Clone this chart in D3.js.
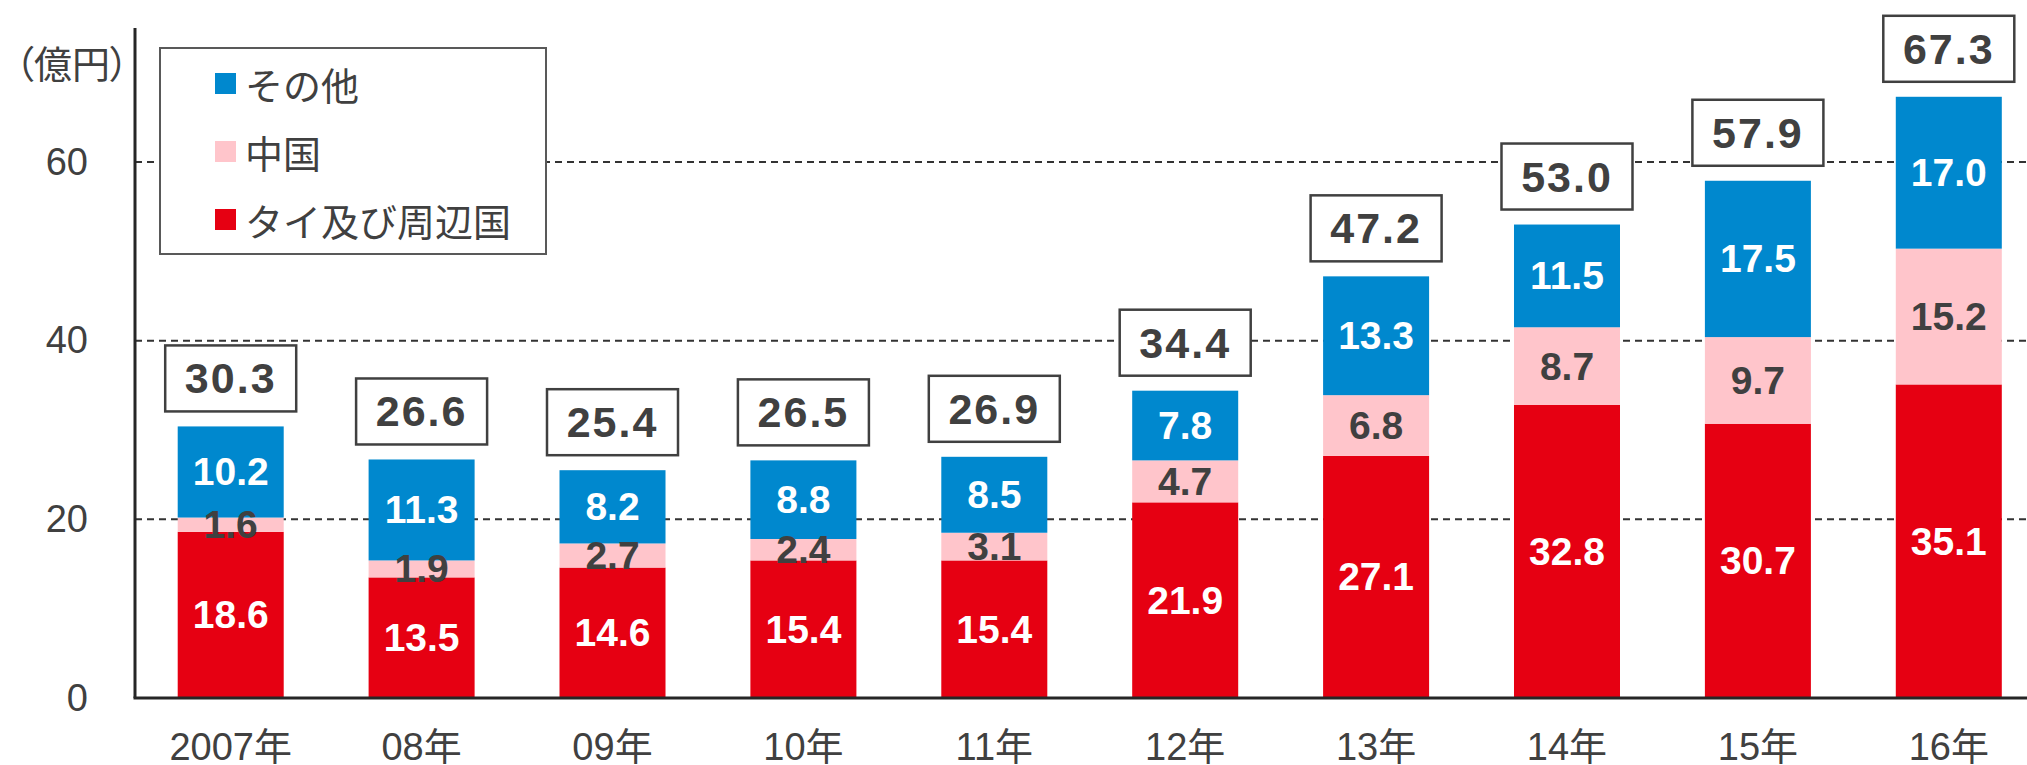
<!DOCTYPE html>
<html>
<head>
<meta charset="utf-8">
<script src="https://cdn.jsdelivr.net/npm/d3@7"></script>
<style>
	body { margin: 0; background: #fff; }
	svg { display: block; }
	text { font-family: "Liberation Sans", Arial, "Noto Sans CJK JP", sans-serif; }
</style>
</head>
<body>
<svg></svg>
<script>
const years = ['2007年', '08年', '09年', '10年', '11年', '12年', '13年', '14年', '15年', '16年'];
const thai = [18.6, 13.5, 14.6, 15.4, 15.4, 21.9, 27.1, 32.8, 30.7, 35.1];
const china = [1.6, 1.9, 2.7, 2.4, 3.1, 4.7, 6.8, 8.7, 9.7, 15.2];
const other = [10.2, 11.3, 8.2, 8.8, 8.5, 7.8, 13.3, 11.5, 17.5, 17.0];
const totals = [30.3, 26.6, 25.4, 26.5, 26.9, 34.4, 47.2, 53.0, 57.9, 67.3];
const yTicks = [0, 20, 40, 60];
const seriesNames = ['タイ及び周辺国', '中国', 'その他'];
const colors = ['#e60012', '#ffc5cb', '#0088ce'];
const labelColors = ['#fff', '#404040', '#fff'];

const width = 2027;
const height = 765;
const left = 135;
const bottom = 698;

const svg = d3.select('svg')
	.attr('width', width)
	.attr('height', height)
	.attr('viewBox', [0, 0, width, height]);

const y = d3.scaleLinear()
	.domain([0, 75])
	.range([bottom, 28]);

const x = d3.scaleBand()
	.domain(years)
	.range([left, 2044.5])
	.paddingInner(0.4447)
	.paddingOuter(0.2237);

// rows for the stack
const table = years.map((yr, i) => ({
	year: yr,
	s0: thai[i],
	s1: china[i],
	s2: other[i],
	total: totals[i]
}));

const stack = d3.stack().keys(['s0', 's1', 's2'])(table);

// grid lines
svg.append('g')
	.selectAll('line')
	.data(yTicks.filter(d => d > 0))
	.enter()
		.append('line')
		.attr('x1', left)
		.attr('x2', width)
		.attr('y1', d => y(d))
		.attr('y2', d => y(d))
		.attr('stroke', '#333')
		.attr('stroke-width', 2)
		.attr('stroke-dasharray', '7,5');

// y tick labels
const yAxis = svg.append('g')
	.attr('transform', `translate(${left},0)`)
	.call(d3.axisLeft(y).tickValues(yTicks).tickSize(0).tickPadding(47));
yAxis.select('.domain').remove();
yAxis.selectAll('text')
	.attr('font-size', 38)
	.attr('fill', '#404040')
	.attr('font-family', '"Liberation Sans", Arial, sans-serif');

// bars
const layer = svg.append('g')
	.selectAll('g')
	.data(stack)
	.enter()
		.append('g')
		.attr('fill', (d, i) => colors[i]);

layer.selectAll('rect')
	.data(d => d)
	.enter()
		.append('rect')
		.attr('x', d => x(d.data.year))
		.attr('width', x.bandwidth())
		.attr('y', d => y(d[1]))
		.attr('height', d => y(d[0]) - y(d[1]));

// segment labels
stack.forEach((s, k) => {
	svg.append('g')
		.selectAll('text')
		.data(s)
		.enter()
			.append('text')
			.attr('x', d => x(d.data.year) + x.bandwidth() / 2)
			.attr('y', d => y((d[0] + d[1]) / 2))
			.attr('text-anchor', 'middle')
			.attr('dominant-baseline', 'central')
			.attr('font-size', 39)
			.attr('font-weight', 'bold')
			.attr('fill', labelColors[k])
			.text(d => (d[1] - d[0]).toFixed(1));
});

// total boxes
const tot = svg.append('g')
	.selectAll('g')
	.data(table)
	.enter()
		.append('g')
		.attr('transform', d => {
			const top = y(d.s0 + d.s1 + d.s2);
			return 'translate(' + (x(d.year) + x.bandwidth() / 2) + ',' + (top - 15 - 33) + ')';
		});

tot.append('rect')
	.attr('x', -65.5)
	.attr('y', -33)
	.attr('width', 131)
	.attr('height', 66)
	.attr('fill', '#fff')
	.attr('stroke', '#404040')
	.attr('stroke-width', 2.5);

tot.append('text')
	.attr('text-anchor', 'middle')
	.attr('dominant-baseline', 'central')
	.attr('font-size', 43)
	.attr('font-weight', 'bold')
	.attr('letter-spacing', 2)
	.attr('fill', '#404040')
	.text(d => d.total.toFixed(1));

// axes lines
svg.append('line')
	.attr('x1', left).attr('x2', left)
	.attr('y1', 28).attr('y2', bottom)
	.attr('stroke', '#262626')
	.attr('stroke-width', 3);

const xAxis = svg.append('g')
	.attr('transform', `translate(0,${bottom})`)
	.call(d3.axisBottom(x).tickSize(0).tickPadding(35));
xAxis.select('.domain').remove();
xAxis.selectAll('text')
	.attr('font-size', 38)
	.attr('fill', '#404040');

svg.append('line')
	.attr('x1', left - 1.5).attr('x2', width)
	.attr('y1', bottom).attr('y2', bottom)
	.attr('stroke', '#262626')
	.attr('stroke-width', 3);

// unit label
svg.append('text')
	.attr('x', 72)
	.attr('y', 61)
	.attr('text-anchor', 'middle')
	.attr('dominant-baseline', 'central')
	.attr('font-size', 38)
	.attr('fill', '#404040')
	.style('font-family', '"Noto Sans CJK JP", sans-serif')
	.style('font-feature-settings', '"palt"')
	.text('（億円）');

// legend
const legend = svg.append('g');
legend.append('rect')
	.attr('x', 160)
	.attr('y', 48)
	.attr('width', 386)
	.attr('height', 206)
	.attr('fill', '#fff')
	.attr('stroke', '#595959')
	.attr('stroke-width', 2);

const legendOrder = [2, 1, 0];
const item = legend.selectAll('g')
	.data(legendOrder)
	.enter()
		.append('g')
		.attr('transform', (d, i) => 'translate(215,' + (83.5 + i * 68) + ')');

item.append('rect')
	.attr('x', 0)
	.attr('y', -10.5)
	.attr('width', 21)
	.attr('height', 21)
	.attr('fill', d => colors[d]);

item.append('text')
	.attr('x', 30)
	.attr('dominant-baseline', 'central')
	.attr('font-size', 38)
	.attr('fill', '#404040')
	.style('font-family', '"Noto Sans CJK JP", sans-serif')
	.text(d => seriesNames[d]);
</script>
</body>
</html>
